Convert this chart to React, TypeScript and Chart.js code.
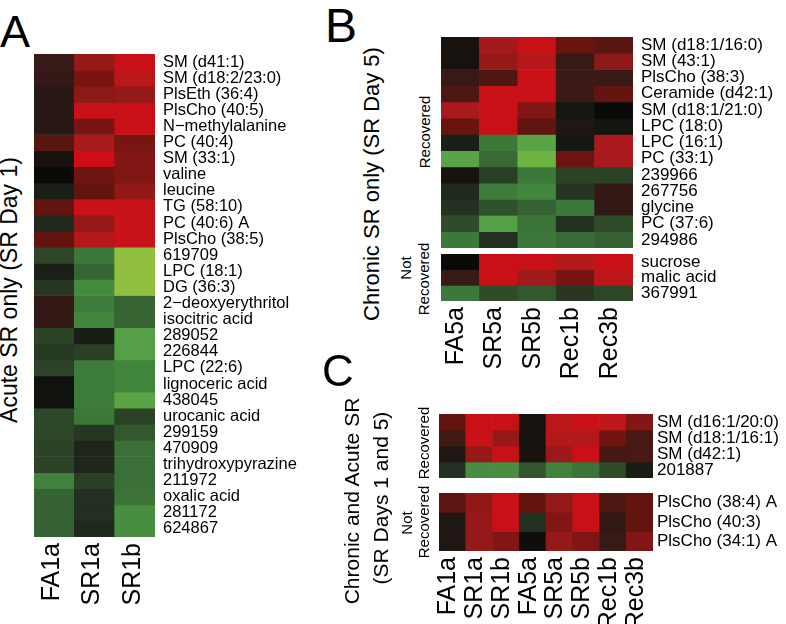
import React, { useEffect, useRef } from 'react';
import { Chart, registerables } from 'chart.js';
Chart.register(...registerables);

const FONT = '"Liberation Sans", Arial, Helvetica, sans-serif';

// ---------- Panel A data ----------
const colsA = ['FA1a', 'SR1a', 'SR1b'];
const rowsA = [
  'SM (d41:1)', 'SM (d18:2/23:0)', 'PlsEth (36:4)', 'PlsCho (40:5)', 'N\u2212methylalanine',
  'PC (40:4)', 'SM (33:1)', 'valine', 'leucine', 'TG (58:10)', 'PC (40:6) A', 'PlsCho (38:5)',
  '619709', 'LPC (18:1)', 'DG (36:3)', '2\u2212deoxyerythritol', 'isocitric acid', '289052',
  '226844', 'LPC (22:6)', 'lignoceric acid', '438045', 'urocanic acid', '299159', '470909',
  'trihydroxypyrazine', '211972', 'oxalic acid', '281172', '624867',
];
const valsA = [
  [0.2, 0.7, 0.97],
  [0.18, 0.55, 0.88],
  [0.12, 0.65, 0.7],
  [0.12, 0.95, 0.97],
  [0.12, 0.55, 0.97],
  [0.38, 0.8, 0.55],
  [0.05, 1.0, 0.6],
  [0.0, 0.5, 0.58],
  [-0.08, 0.45, 0.68],
  [0.45, 0.95, 0.95],
  [-0.12, 0.7, 0.95],
  [0.45, 0.85, 0.95],
  [-0.3, -0.6, -1.0],
  [-0.08, -0.5, -1.0],
  [-0.2, -0.7, -1.0],
  [0.18, -0.62, -0.5],
  [0.18, -0.68, -0.5],
  [-0.27, -0.07, -0.8],
  [-0.22, -0.25, -0.8],
  [-0.28, -0.62, -0.68],
  [-0.03, -0.62, -0.68],
  [-0.03, -0.62, -0.82],
  [-0.32, -0.6, -0.27],
  [-0.3, -0.2, -0.42],
  [-0.27, -0.1, -0.55],
  [-0.27, -0.1, -0.55],
  [-0.65, -0.25, -0.55],
  [-0.48, -0.15, -0.57],
  [-0.48, -0.15, -0.72],
  [-0.48, -0.12, -0.72],
];

// ---------- Panel B data ----------
const colsB = ['FA5a', 'SR5a', 'SR5b', 'Rec1b', 'Rec3b'];
const rowsBRec = [
  'SM (d18:1/16:0)', 'SM (43:1)', 'PlsCho (38:3)', 'Ceramide (d42:1)', 'SM (d18:1/21:0)',
  'LPC (18:0)', 'LPC (16:1)', 'PC (33:1)', '239966', '267756', 'glycine', 'PC (37:6)', '294986',
];
const valsBRec = [
  [0.05, 0.78, 0.97, 0.48, 0.38],
  [0.05, 0.7, 0.85, 0.2, 0.65],
  [0.2, 0.32, 0.97, 0.22, 0.2],
  [0.3, 0.97, 0.97, 0.22, 0.45],
  [0.8, 0.97, 0.6, -0.05, 0.0],
  [0.48, 0.97, 0.42, 0.08, -0.04],
  [-0.08, -0.6, -0.82, -0.05, 0.8],
  [-0.82, -0.52, -0.9, 0.5, 0.8],
  [0.05, -0.25, -0.6, -0.27, -0.27],
  [-0.12, -0.62, -0.68, -0.18, 0.18],
  [-0.17, -0.37, -0.48, -0.6, 0.17],
  [-0.33, -0.8, -0.57, -0.16, -0.33],
  [-0.6, -0.15, -0.6, -0.52, -0.47],
];
const rowsBNot = ['sucrose', 'malic acid', '367991'];
const valsBNot = [
  [0.0, 0.97, 0.97, 0.85, 0.97],
  [0.2, 0.97, 0.75, 0.55, 0.9],
  [-0.6, -0.33, -0.42, -0.2, -0.3],
];

// ---------- Panel C data ----------
const colsC = ['FA1a', 'SR1a', 'SR1b', 'FA5a', 'SR5a', 'SR5b', 'Rec1b', 'Rec3b'];
const rowsCRec = ['SM (d16:1/20:0)', 'SM (d18:1/16:1)', 'SM (d42:1)', '201887'];
const valsCRec = [
  [0.45, 0.97, 0.97, 0.05, 0.88, 0.97, 0.9, 0.6],
  [0.25, 0.97, 0.7, 0.05, 0.85, 0.85, 0.52, 0.28],
  [0.08, 0.7, 0.97, 0.05, 0.72, 0.97, 0.27, 0.28],
  [-0.15, -0.72, -0.72, -0.4, -0.65, -0.58, -0.33, -0.07],
];
const rowsCNot = ['PlsCho (38:4) A', 'PlsCho (40:3)', 'PlsCho (34:1) A'];
const valsCNot = [
  [0.4, 0.68, 0.97, 0.45, 0.7, 0.97, 0.32, 0.45],
  [0.08, 0.7, 0.97, -0.15, 0.6, 0.97, 0.17, 0.45],
  [0.08, 0.7, 0.6, 0.02, 0.7, 0.58, 0.2, 0.6],
];

// ---------- colour scale ----------
const POS_STOPS: [number, number[]][] = [
  [0, [10, 10, 8]], [0.1, [38, 25, 22]], [0.2, [55, 25, 22]], [0.3, [75, 24, 20]],
  [0.45, [100, 20, 15]], [0.6, [130, 22, 20]], [0.7, [150, 25, 25]], [0.8, [170, 25, 28]],
  [0.9, [190, 22, 26]], [1, [206, 13, 22]],
];
const NEG_STOPS: [number, number[]][] = [
  [0, [10, 10, 8]], [0.1, [30, 38, 28]], [0.2, [40, 55, 35]], [0.3, [45, 70, 40]],
  [0.4, [50, 85, 45]], [0.5, [55, 102, 52]], [0.6, [60, 120, 58]], [0.7, [68, 138, 63]],
  [0.8, [85, 160, 70]], [0.9, [110, 180, 66]], [1, [145, 192, 65]],
];
function cellColor(v: number): string {
  const stops = v >= 0 ? POS_STOPS : NEG_STOPS;
  const a = Math.min(1, Math.abs(v));
  for (let i = 1; i < stops.length; i++) {
    const [t1, c1] = stops[i];
    const [t0, c0] = stops[i - 1];
    if (a <= t1) {
      const f = (a - t0) / (t1 - t0);
      const c = c0.map((x, k) => Math.round(x + (c1[k] - x) * f));
      return `rgb(${c[0]},${c[1]},${c[2]})`;
    }
  }
  const c = stops[stops.length - 1][1];
  return `rgb(${c[0]},${c[1]},${c[2]})`;
}

const PAD = 12;
const PADL = 20;

type BlockProps = {
  rows: string[]; cols: string[]; values: number[][];
  left: number; top: number; plotW: number; plotH: number;
  yW: number; yPad: number; yFont: number;
  showX: boolean; xH?: number; xPad?: number; xFont?: number; xOffset?: number;
};

function HeatBlock(p: BlockProps) {
  const ref = useRef<HTMLCanvasElement>(null);
  const cw = PADL + p.plotW + p.yW;
  const ch = PAD + p.plotH + (p.showX ? (p.xH || 0) : PAD);
  useEffect(() => {
    const chart = new Chart(ref.current as HTMLCanvasElement, {
      type: 'bar',
      data: {
        labels: p.cols,
        datasets: p.rows.map((r, i) => ({
          label: r,
          data: p.cols.map(() => 1),
          backgroundColor: p.values[i].map(cellColor),
          borderWidth: 0,
          barPercentage: 1,
          categoryPercentage: 1,
          stack: 's',
        })),
      },
      options: {
        responsive: false,
        maintainAspectRatio: false,
        animation: false,
        events: [],
        layout: { padding: { top: PAD, bottom: p.showX ? 0 : PAD, left: PADL, right: 0 } },
        plugins: { legend: { display: false }, tooltip: { enabled: false } },
        scales: {
          x: {
            display: p.showX,
            stacked: true,
            grid: { display: false, drawTicks: false },
            border: { display: false },
            ticks: {
              autoSkip: false, minRotation: 90, maxRotation: 90,
              padding: p.xPad || 0, labelOffset: p.xOffset || 0,
              color: '#000', font: { family: FONT, size: p.xFont || 12 },
            },
            afterFit: (s: any) => {
              if (p.showX) s.height = p.xH;
              s.paddingLeft = 0; s.paddingRight = 0;
            },
          },
          y: {
            type: 'linear',
            position: 'right',
            stacked: true,
            min: 0,
            max: p.rows.length,
            reverse: true,
            grid: { display: false, drawTicks: false },
            border: { display: false },
            afterBuildTicks: (s: any) => {
              s.ticks = p.rows.map((_, i) => ({ value: i + 0.5 }));
            },
            ticks: {
              autoSkip: false,
              padding: p.yPad,
              color: '#000',
              font: { family: FONT, size: p.yFont },
              callback: (v: any) => p.rows[Math.floor(Number(v))],
            },
            afterFit: (s: any) => {
              s.width = p.yW; s.paddingTop = 0; s.paddingBottom = 0;
            },
          },
        },
      } as any,
    });
    return () => chart.destroy();
  }, []);
  return (
    <canvas
      ref={ref}
      width={cw}
      height={ch}
      style={{ position: 'absolute', left: p.left - PADL, top: p.top - PAD, width: cw, height: ch, display: 'block' }}
    />
  );
}

function RotText({ text, cx, cy, size }: { text: string; cx: number; cy: number; size: number }) {
  return (
    <div
      style={{
        position: 'absolute', left: cx, top: cy, fontSize: size, lineHeight: 1,
        whiteSpace: 'nowrap', transform: 'translate(-50%,-50%) rotate(-90deg)', fontFamily: FONT,
      }}
    >
      {text}
    </div>
  );
}

function Letter({ text, left, top, size }: { text: string; left: number; top: number; size: number }) {
  return (
    <div style={{ position: 'absolute', left, top, fontSize: size, lineHeight: 1, fontFamily: FONT }}>{text}</div>
  );
}

export default function App() {
  return (
    <div
      style={{
        position: 'fixed', left: 0, top: 0, width: 786, height: 624, background: '#fff',
        overflow: 'hidden', color: '#000', fontFamily: FONT,
      }}
    >
      {/* Panel A */}
      <Letter text="A" left={0} top={9} size={45} />
      <RotText text="Acute SR only (SR Day 1)" cx={9} cy={290} size={23} />
      <HeatBlock rows={rowsA} cols={colsA} values={valsA} left={34} top={54} plotW={121} plotH={483}
        yW={170} yPad={8} yFont={16.5} showX xH={80} xPad={6} xFont={25} xOffset={-2} />

      {/* Panel B */}
      <Letter text="B" left={325} top={2} size={48} />
      <RotText text="Chronic SR only (SR Day 5)" cx={372} cy={184} size={22} />
      <RotText text="Recovered" cx={424} cy={132} size={15} />
      <RotText text="Not" cx={405} cy={268} size={15} />
      <RotText text="Recovered" cx={423} cy={279} size={15} />
      <HeatBlock rows={rowsBRec} cols={colsB} values={valsBRec} left={441} top={37} plotW={192} plotH={211}
        yW={145} yPad={8} yFont={17} showX={false} />
      <HeatBlock rows={rowsBNot} cols={colsB} values={valsBNot} left={441} top={254} plotW={192} plotH={47}
        yW={145} yPad={8} yFont={17} showX xH={85} xPad={6} xFont={25} xOffset={-4} />

      {/* Panel C */}
      <Letter text="C" left={322} top={349} size={44} />
      <RotText text="Chronic and Acute SR" cx={351} cy={501} size={21} />
      <RotText text="(SR Days 1 and 5)" cx={380} cy={498} size={21} />
      <RotText text="Recovered" cx={423} cy={443} size={15} />
      <RotText text="Not" cx={406} cy={523} size={15} />
      <RotText text="Recovered" cx={423} cy={522} size={15} />
      <HeatBlock rows={rowsCRec} cols={colsC} values={valsCRec} left={439} top={414} plotW={214} plotH={64}
        yW={133} yPad={4} yFont={17} showX={false} />
      <HeatBlock rows={rowsCNot} cols={colsC} values={valsCNot} left={439} top={493} plotW={214} plotH={58}
        yW={133} yPad={4} yFont={17} showX xH={75} xPad={6} xFont={25} xOffset={-4} />
    </div>
  );
}
